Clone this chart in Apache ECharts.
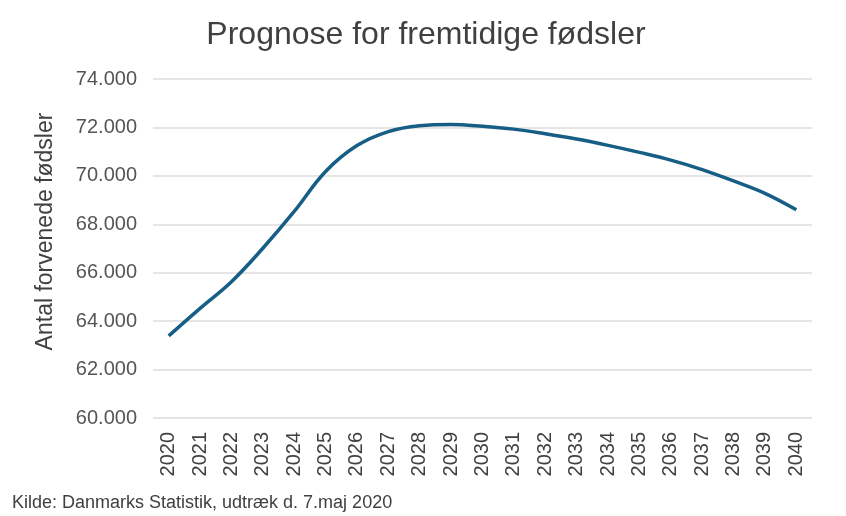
<!DOCTYPE html>
<html>
<head>
<meta charset="utf-8">
<script src="https://cdn.jsdelivr.net/npm/echarts@6/dist/echarts.min.js"></script>
<style>
html,body{margin:0;padding:0;background:#fff;}
#main{width:846px;height:516px;}
</style>
</head>
<body>
<div id="main"></div>
<script>
// aar og forventede foedsler (aflaest fra figuren)
var years = ['2020','2021','2022','2023','2024','2025','2026','2027','2028','2029','2030',
             '2031','2032','2033','2034','2035','2036','2037','2038','2039','2040'];
var births = [63390, 64530, 65630, 67010, 68530, 70180, 71250, 71830, 72070, 72120, 72050,
              71930, 71740, 71520, 71260, 70970, 70650, 70260, 69790, 69280, 68600];
var yMin = 60000, yMax = 74000, yStep = 2000;

function fmt(v){
    return String(v).replace(/\B(?=(\d{3})+(?!\d))/g, '.');
}

var chart = echarts.init(document.getElementById('main'));
var option = {
    backgroundColor: '#fff',
    animation: false,
    title: {
        text: 'Prognose for fremtidige fødsler',
        left: 421,
        textAlign: 'center',
        top: 14,
        textStyle: {
            color: '#404040',
            fontFamily: 'Liberation Sans',
            fontSize: 32,
            fontWeight: 'normal'
        }
    },
    graphic: [{
        type: 'text',
        left: 12,
        top: 494,
        style: {
            text: 'Kilde: Danmarks Statistik, udtræk d. 7.maj 2020',
            fill: '#404040',
            font: '18px "Liberation Sans", sans-serif'
        }
    }],
    grid: {
        left: 153,
        right: 34,
        top: 79,
        bottom: 98
    },
    xAxis: {
        type: 'category',
        data: years,
        boundaryGap: true,
        axisLine: { show: false },
        axisTick: { show: false },
        axisLabel: {
            rotate: 90,
            interval: 0,
            margin: 14,
            color: '#404040',
            fontFamily: 'Liberation Sans',
            fontSize: 20
        }
    },
    yAxis: {
        type: 'value',
        min: yMin,
        max: yMax,
        interval: yStep,
        name: 'Antal forvenede fødsler',
        nameLocation: 'middle',
        nameGap: 96,
        nameTextStyle: {
            color: '#404040',
            fontFamily: 'Liberation Sans',
            fontSize: 23,
            padding: [0, 0, 0, 34]
        },
        axisLine: { show: false },
        axisTick: { show: false },
        axisLabel: {
            margin: 16,
            color: '#555',
            fontFamily: 'Liberation Sans',
            fontSize: 20,
            formatter: fmt
        },
        splitLine: {
            lineStyle: { color: '#dcdcdc', width: 1.5 }
        }
    },
    series: [{
        type: 'line',
        data: births,
        smooth: 0.4,
        symbol: 'none',
        lineStyle: { color: '#175e87', width: 3.5 }
    }]
};
chart.setOption(option);
</script>
</body>
</html>
